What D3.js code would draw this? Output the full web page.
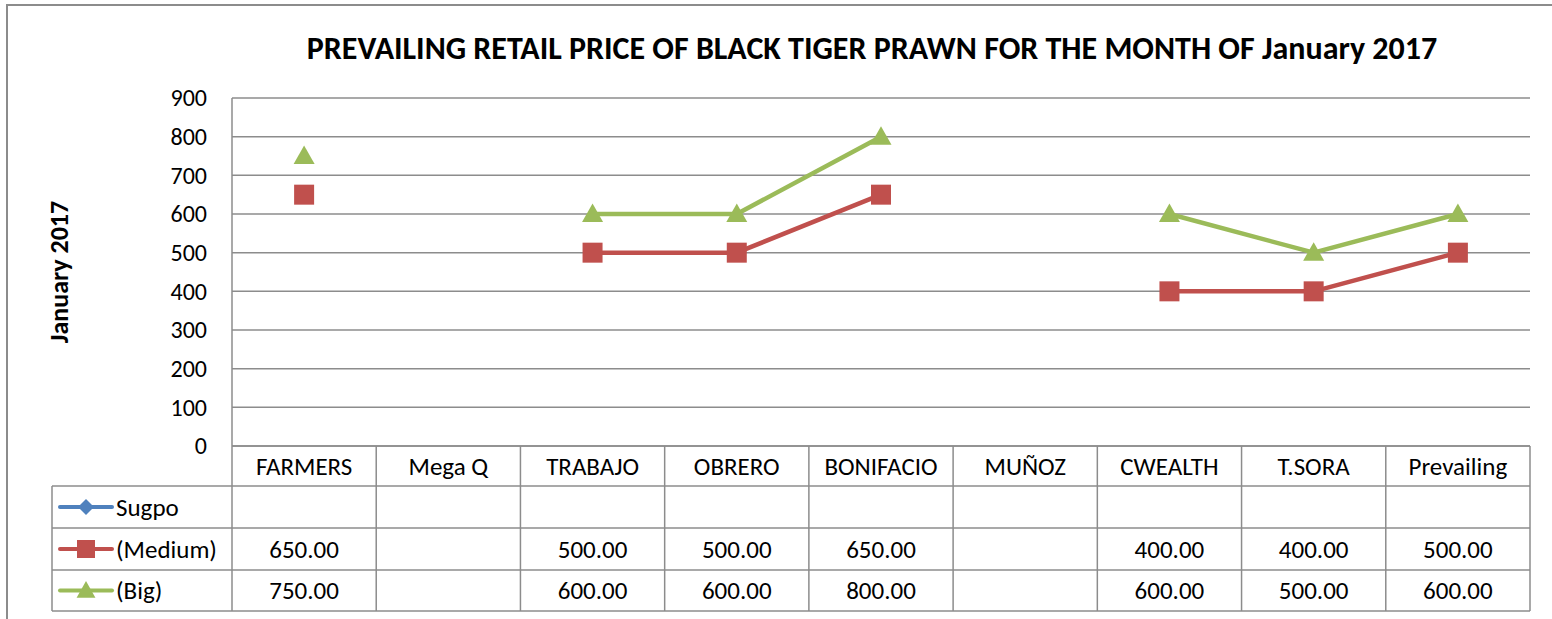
<!DOCTYPE html>
<html>
<head>
    <meta charset="utf-8">
    <script src="https://d3js.org/d3.v7.min.js"></script>
    <style>
        body { margin: 0; background: #fff; }
        svg text { font-family: Carlito, Lato, "Open Sans", sans-serif; fill: #000; }
    </style>
</head>
<body>
    <svg width="1552" height="619"></svg>

    <script>
        var categories = ["FARMERS", "Mega Q", "TRABAJO", "OBRERO", "BONIFACIO", "MUÑOZ", "CWEALTH", "T.SORA", "Prevailing"];
        var sugpo  = [null, null, null, null, null, null, null, null, null];
        var medium = [650, null, 500, 500, 650, null, 400, 400, 500];
        var big    = [750, null, 600, 600, 800, null, 600, 500, 600];
        var yTicks = [0, 100, 200, 300, 400, 500, 600, 700, 800, 900];

        var series = [
            { name: "Sugpo", values: sugpo, color: "#4F81BD", marker: "diamond" },
            { name: "(Medium)", values: medium, color: "#C0504D", marker: "square" },
            { name: "(Big)", values: big, color: "#9BBB59", marker: "triangle" }
        ];

        var plotLeft = 232, plotRight = 1530, plotTop = 98, plotBottom = 446;
        var rowH = [40, 42, 42, 41]; // header row + 3 series rows
        var legendLeft = 52;
        var gridColor = "#8c8c8c";

        var svg = d3.select("svg");

        // outer chart border
        svg.append("rect")
            .attr("x", 7).attr("y", 5)
            .attr("width", 1560).attr("height", 630)
            .attr("fill", "none").attr("stroke", "#8c8c8c").attr("stroke-width", 2);

        var x = d3.scaleBand().domain(categories).range([plotLeft, plotRight]);
        var y = d3.scaleLinear().domain([0, 900]).range([plotBottom, plotTop]);

        // gridlines
        svg.append("g").selectAll("line")
            .data(yTicks)
            .enter().append("line")
            .attr("x1", plotLeft).attr("x2", plotRight)
            .attr("y1", function(d) { return y(d); })
            .attr("y2", function(d) { return y(d); })
            .attr("stroke", gridColor).attr("stroke-width", 1.5);

        // left edge of plot
        svg.append("line")
            .attr("x1", plotLeft).attr("x2", plotLeft)
            .attr("y1", plotTop).attr("y2", plotBottom)
            .attr("stroke", gridColor).attr("stroke-width", 1.5);

        // y tick labels
        svg.append("g").selectAll("text")
            .data(yTicks)
            .enter().append("text")
            .attr("x", plotLeft - 25)
            .attr("y", function(d) { return y(d); })
            .attr("dy", "0.35em")
            .attr("text-anchor", "end")
            .style("font-size", "24px")
            .text(function(d) { return d; });

        // axis title
        svg.append("text")
            .attr("transform", "translate(68," + ((plotTop + plotBottom) / 2) + ") rotate(-90)")
            .attr("text-anchor", "middle")
            .style("font-size", "26px")
            .style("font-weight", "bold")
            .text("January 2017");

        // chart title
        svg.append("text")
            .attr("x", 872).attr("y", 59)
            .attr("text-anchor", "middle")
            .style("font-size", "32px")
            .style("font-weight", "bold")
            .text("PREVAILING RETAIL PRICE OF BLACK TIGER PRAWN FOR THE MONTH OF January 2017");

        // data table
        var rowTop = [plotBottom];
        rowH.forEach(function(h, i) { rowTop.push(rowTop[i] + h); });
        var tableBottom = rowTop[rowTop.length - 1];

        var table = svg.append("g");
        rowTop.forEach(function(yy, i) {
            table.append("line")
                .attr("x1", i === 0 ? plotLeft : legendLeft).attr("x2", plotRight)
                .attr("y1", yy).attr("y2", yy)
                .attr("stroke", gridColor).attr("stroke-width", 1.5);
        });
        var bounds = categories.map(function(c) { return x(c); }).concat([plotRight]);
        table.selectAll(".vline")
            .data(bounds)
            .enter().append("line")
            .attr("x1", function(d) { return d; }).attr("x2", function(d) { return d; })
            .attr("y1", plotBottom).attr("y2", tableBottom)
            .attr("stroke", gridColor).attr("stroke-width", 1.5);
        table.append("line")
            .attr("x1", legendLeft).attr("x2", legendLeft)
            .attr("y1", rowTop[1]).attr("y2", tableBottom)
            .attr("stroke", gridColor).attr("stroke-width", 1.5);

        // category labels
        table.selectAll(".cat")
            .data(categories)
            .enter().append("text")
            .attr("x", function(d) { return x(d) + x.bandwidth() / 2; })
            .attr("y", (rowTop[0] + rowTop[1]) / 2)
            .attr("dy", "0.35em")
            .attr("text-anchor", "middle")
            .style("font-size", "25px")
            .text(function(d) { return d; });

        function markerPath(type, size) {
            var s = size / 2;
            if (type === "square") return "M" + (-s) + "," + (-s) + "h" + size + "v" + size + "h" + (-size) + "Z";
            if (type === "diamond") return "M0," + (-s) + "L" + s + ",0L0," + s + "L" + (-s) + ",0Z";
            return "M0," + (-s * 1.05) + "L" + (s * 1.05) + "," + (s * 0.8) + "L" + (-s * 1.05) + "," + (s * 0.8) + "Z";
        }

        series.forEach(function(s, i) {
            var cy = (rowTop[i + 1] + rowTop[i + 2]) / 2;
            var legend = table.append("g");
            legend.append("line")
                .attr("x1", 60).attr("x2", 112)
                .attr("y1", cy).attr("y2", cy)
                .attr("stroke", s.color).attr("stroke-width", 4)
                .attr("stroke-linecap", "round");
            legend.append("path")
                .attr("transform", "translate(86," + cy + ")")
                .attr("d", markerPath(s.marker, s.marker === "diamond" ? 16 : 18))
                .attr("fill", s.color);
            legend.append("text")
                .attr("x", 116).attr("y", cy).attr("dy", "0.35em")
                .style("font-size", "25px")
                .text(s.name);

            table.selectAll(".val" + i)
                .data(s.values)
                .enter().append("text")
                .attr("x", function(d, j) { return x(categories[j]) + x.bandwidth() / 2; })
                .attr("y", cy).attr("dy", "0.35em")
                .attr("text-anchor", "middle")
                .style("font-size", "25px")
                .text(function(d) { return d == null ? "" : d.toFixed(2); });
        });

        // lines and markers
        var line = d3.line()
            .defined(function(d) { return d != null; })
            .x(function(d, j) { return x(categories[j]) + x.bandwidth() / 2; })
            .y(function(d) { return y(d); });

        series.forEach(function(s) {
            svg.append("path")
                .datum(s.values)
                .attr("d", line)
                .attr("fill", "none")
                .attr("stroke", s.color)
                .attr("stroke-width", 4.5)
                .attr("stroke-linejoin", "round");

            svg.append("g").selectAll("path")
                .data(s.values.map(function(v, j) { return { v: v, c: categories[j] }; })
                    .filter(function(d) { return d.v != null; }))
                .enter().append("path")
                .attr("transform", function(d) {
                    return "translate(" + (x(d.c) + x.bandwidth() / 2) + "," + y(d.v) + ")";
                })
                .attr("d", markerPath(s.marker, 20))
                .attr("fill", s.color);
        });
    </script>
</body>
</html>
